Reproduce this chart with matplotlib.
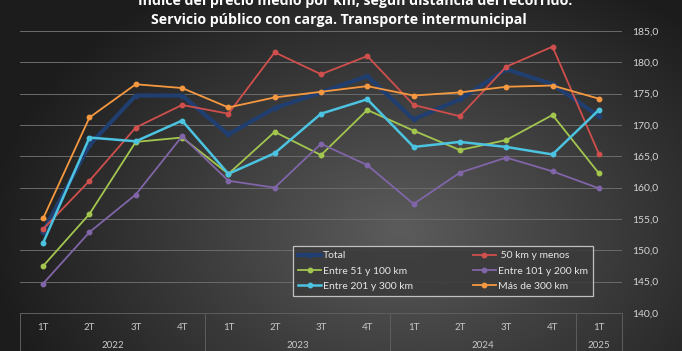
import numpy as np
import matplotlib.pyplot as plt
from matplotlib.transforms import blended_transform_factory

# datos
trimestres = ['1T', '2T', '3T', '4T', '1T', '2T', '3T', '4T', '1T', '2T', '3T', '4T', '1T']
anios = ['2022', '2023', '2024', '2025']
anio_inicio = [0, 4, 8, 12]
anio_fin = [3, 7, 11, 12]

total = [153.0, 166.8, 174.7, 174.7, 168.5, 172.7, 175.2, 177.8, 170.9, 174.1, 178.9, 176.5, 171.4]
km_50 = [153.4, 161.1, 169.6, 173.2, 171.8, 181.6, 178.1, 181.0, 173.2, 171.4, 179.3, 182.5, 165.4]
km_51_100 = [147.5, 155.8, 167.3, 168.0, 162.2, 168.9, 165.2, 172.4, 169.1, 166.0, 167.6, 171.6, 162.3]
km_101_200 = [144.7, 152.9, 158.9, 168.2, 161.1, 160.0, 167.0, 163.6, 157.4, 162.4, 164.8, 162.6, 159.9]
km_201_300 = [151.2, 168.0, 167.4, 170.7, 162.2, 165.5, 171.8, 174.1, 166.5, 167.3, 166.5, 165.3, 172.4]
km_300 = [155.1, 171.2, 176.5, 175.9, 172.8, 174.4, 175.3, 176.2, 174.7, 175.2, 176.1, 176.3, 174.2]

series = [
    ('Total', total, '#203f70', 3.0),
    (' 50 km y menos', km_50, '#cf4f4c', 1.3),
    ('Entre 51 y 100 km', km_51_100, '#a3c64f', 1.3),
    ('Entre 101 y 200 km', km_101_200, '#8065a8', 1.3),
    ('Entre 201 y 300 km', km_201_300, '#4cc3e0', 1.8),
    ('Más de 300 km', km_300, '#f5983f', 1.3),
]

W, H = 682, 351
fig = plt.figure(figsize=(W / 100, H / 100), dpi=100)
plt.rcParams['font.family'] = ['Lato', 'DejaVu Sans']

# fondo con degradado radial
bg = fig.add_axes([0, 0, 1, 1], zorder=-10)
yy, xx = np.mgrid[0:H, 0:W]
r = np.sqrt(((xx - 400) / 430.0) ** 2 + ((yy - 230) / 300.0) ** 2)
g = np.clip(0.36 - 0.26 * r, 0.11, 1)
bg.imshow(np.dstack([g, g, g]), aspect='auto', extent=[0, 1, 0, 1])
bg.axis('off')

ax_left, ax_right, ax_top, ax_bot = 20, 622, 31, 313
ax = fig.add_axes([ax_left / W, 1 - ax_bot / H, (ax_right - ax_left) / W, (ax_bot - ax_top) / H])
ax.set_facecolor('none')

x = np.arange(len(trimestres))
lineas = {}
for nombre, valores, color, lw in series:
    ln, = ax.plot(x, valores, color=color, lw=lw, marker='o', markersize=3.2,
                  markerfacecolor=color, markeredgecolor=color, label=nombre)
    lineas[nombre] = ln

ax.set_xlim(-0.5, len(trimestres) - 0.5)
ax.set_ylim(140, 185)
ax.set_yticks(np.arange(140, 186, 5))
ax.set_yticklabels([f'{v:.1f}'.replace('.', ',') for v in np.arange(140, 186, 5)])
ax.yaxis.tick_right()
ax.tick_params(axis='y', length=0, pad=7, labelsize=7.5, labelcolor='#d4d4d4')
ax.grid(axis='y', color='#6b6b6b', lw=0.7)
ax.set_axisbelow(True)
for s in ['top', 'right', 'left']:
    ax.spines[s].set_visible(False)
ax.spines['bottom'].set_color('#5e5e5e')
ax.spines['bottom'].set_linewidth(0.7)

ax.set_xticks(x)
ax.set_xticklabels(trimestres)
ax.tick_params(axis='x', length=0, pad=7, labelsize=7, labelcolor='#c8c8c8')

# eje de categorias en dos niveles
trans = blended_transform_factory(ax.transData, ax.transAxes)
h_ax = ax_bot - ax_top
ax.vlines([-0.5, 3.5, 7.5, 11.5, 12.5], 0, -(H - ax_bot) / h_ax, transform=trans,
          colors='#5e5e5e', lw=0.7, clip_on=False)
for a, i0, i1 in zip(anios, anio_inicio, anio_fin):
    ax.text((i0 + i1) / 2, -32 / h_ax, a, transform=trans, ha='center', va='center',
            fontsize=7, color='#c8c8c8')

orden = ['Total', 'Entre 51 y 100 km', 'Entre 201 y 300 km',
         ' 50 km y menos', 'Entre 101 y 200 km', 'Más de 300 km']
leg = ax.legend([lineas[n] for n in orden], orden, ncol=2, loc='upper left',
                bbox_to_anchor=(293 / W, 1 - 301 / H, 300 / W, 55 / H),
                bbox_transform=fig.transFigure, mode='expand', borderaxespad=0,
                fontsize=7.5, labelcolor='#e6e6e6', handlelength=2.2, handletextpad=0.2,
                labelspacing=0.55, fancybox=False, framealpha=0.85,
                facecolor='#3a3a3a', edgecolor='#d8d8d8', borderpad=0.5)
leg.get_frame().set_linewidth(0.9)

fig.text(355 / W, 1 - 5 / H, 'Índice del precio medio por km, según distancia del recorrido.',
         ha='center', va='baseline', fontsize=10.2, fontweight='bold', color='white',
         family='Open Sans')
fig.text(339 / W, 1 - 24 / H, 'Servicio público con carga. Transporte intermunicipal',
         ha='center', va='baseline', fontsize=10.2, fontweight='bold', color='white',
         family='Open Sans')

fig.savefig('out.png', dpi=100)
